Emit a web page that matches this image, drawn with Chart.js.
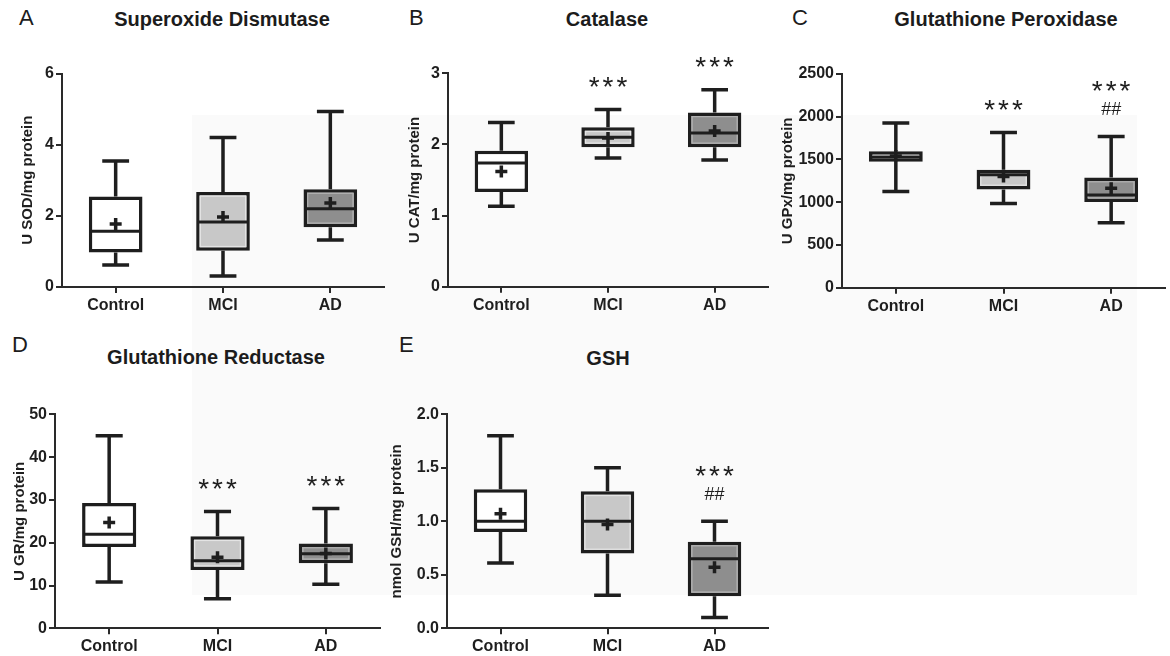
<!DOCTYPE html>
<html><head><meta charset="utf-8">
<script src="https://cdn.jsdelivr.net/npm/chart.js@4.4.0/dist/chart.umd.min.js"></script>
<style>
html,body{margin:0;padding:0;background:#fff;}
body{width:1170px;height:656px;position:relative;overflow:hidden;font-family:"Liberation Sans",Arial,sans-serif;color:#1c1c1c;}
.bg{position:absolute;left:192px;top:115px;width:945px;height:480px;background:#fafafa;}
.letter{position:absolute;font-size:22px;line-height:24px;white-space:nowrap;}
.title{position:absolute;font-size:20px;line-height:24px;font-weight:bold;transform:translateX(-50%);white-space:nowrap;}
canvas{position:absolute;}
</style></head><body>
<div class="bg"></div>
<div class="letter" style="left:19px;top:6px">A</div>
<div class="letter" style="left:409px;top:6px">B</div>
<div class="letter" style="left:792px;top:6px">C</div>
<div class="letter" style="left:12px;top:333px">D</div>
<div class="letter" style="left:399px;top:333px">E</div>
<div class="title" style="left:222px;top:7px">Superoxide Dismutase</div>
<div class="title" style="left:607px;top:7px">Catalase</div>
<div class="title" style="left:1006px;top:7px">Glutathione Peroxidase</div>
<div class="title" style="left:216px;top:345px">Glutathione Reductase</div>
<div class="title" style="left:608px;top:346px">GSH</div>
<canvas id="cA" width="390" height="280" style="left:0px;top:40px"></canvas>
<canvas id="cB" width="385" height="280" style="left:390px;top:40px"></canvas>
<canvas id="cC" width="395" height="280" style="left:775px;top:40px"></canvas>
<canvas id="cD" width="390" height="276" style="left:0px;top:380px"></canvas>
<canvas id="cE" width="390" height="276" style="left:385px;top:380px"></canvas>
<script>
const categories = ['Control', 'MCI', 'AD'];

// A: Superoxide Dismutase (U SOD/mg protein)
const sodMin    = [0.62, 0.31, 1.32];
const sodQ1     = [0.97, 1.02, 1.68];
const sodMedian = [1.57, 1.83, 2.20];
const sodQ3     = [2.54, 2.67, 2.75];
const sodMax    = [3.54, 4.20, 4.93];
const sodMean   = [1.77, 1.97, 2.36];
const sodTicks  = [0, 2, 4, 6];
const sodTickLabels = ['0', '2', '4', '6'];
const sodSig  = ['', '', ''];
const sodHash = ['', '', ''];

// B: Catalase (U CAT/mg protein)
const catMin    = [1.13, 1.81, 1.78];
const catQ1     = [1.33, 1.96, 1.96];
const catMedian = [1.74, 2.10, 2.16];
const catQ3     = [1.91, 2.24, 2.45];
const catMax    = [2.31, 2.49, 2.77];
const catMean   = [1.62, 2.09, 2.19];
const catTicks  = [0, 1, 2, 3];
const catTickLabels = ['0', '1', '2', '3'];
const catSig  = ['', '***', '***'];
const catHash = ['', '', ''];

// C: Glutathione Peroxidase (U GPx/mg protein)
const gpxMin    = [1125, 985, 760];
const gpxQ1     = [1472, 1150, 1002];
const gpxMedian = [1530, 1322, 1084];
const gpxQ3     = [1595, 1380, 1288];
const gpxMax    = [1928, 1815, 1770];
const gpxMean   = [1540, 1300, 1162];
const gpxTicks  = [0, 500, 1000, 1500, 2000, 2500];
const gpxTickLabels = ['0', '500', '1000', '1500', '2000', '2500'];
const gpxSig  = ['', '***', '***'];
const gpxHash = ['', '', '##'];

// D: Glutathione Reductase (U GR/mg protein)
const grMin    = [10.8, 6.9, 10.3];
const grQ1     = [19.0, 13.6, 15.2];
const grMedian = [22.0, 15.8, 17.4];
const grQ3     = [29.3, 21.5, 19.8];
const grMax    = [45.0, 27.3, 28.0];
const grMean   = [24.7, 16.6, 17.5];
const grTicks  = [0, 10, 20, 30, 40, 50];
const grTickLabels = ['0', '10', '20', '30', '40', '50'];
const grSig  = ['', '***', '***'];
const grHash = ['', '', ''];

// E: GSH (nmol GSH/mg protein)
const gshMin    = [0.61, 0.31, 0.10];
const gshQ1     = [0.90, 0.70, 0.30];
const gshMedian = [1.00, 1.00, 0.65];
const gshQ3     = [1.30, 1.28, 0.81];
const gshMax    = [1.80, 1.50, 1.00];
const gshMean   = [1.07, 0.97, 0.57];
const gshTicks  = [0, 0.5, 1.0, 1.5, 2.0];
const gshTickLabels = ['0.0', '0.5', '1.0', '1.5', '2.0'];
const gshSig  = ['', '', '***'];
const gshHash = ['', '', '##'];

const FONT = '"Liberation Sans", Arial, sans-serif';
const INK = '#1e1e1e';
const boxFill = ['#ffffff', '#c8c8c8', '#8e8e8e'];
const boxInner = [null, '#e4e4e4', '#b2b2b2'];

const boxPlugin = {
  id: 'boxPlot',
  afterDatasetsDraw(chart) {
    const d = chart.options.plugins.boxPlot;
    if (!d) return;
    const ctx = chart.ctx;
    const ys = chart.scales.y;
    const py = v => ys.getPixelForValue(v);
    const meta = chart.getDatasetMeta(0);
    meta.data.forEach((bar, i) => {
      const x = bar.x, w = bar.width;
      ctx.save();
      if (boxInner[i]) {
        ctx.strokeStyle = boxInner[i];
        ctx.lineWidth = 1.2;
        const t = py(d.q3[i]) + 4.2, b = py(d.q1[i]) - 4.2;
        ctx.strokeRect(x - w / 2 + 4.2, t, w - 8.4, b - t);
      }
      ctx.strokeStyle = INK;
      ctx.lineCap = 'butt';
      ctx.lineWidth = 3.5;
      ctx.beginPath();
      ctx.moveTo(x, py(d.q3[i])); ctx.lineTo(x, py(d.max[i]));
      ctx.moveTo(x, py(d.q1[i])); ctx.lineTo(x, py(d.min[i]));
      ctx.moveTo(x - w / 4, py(d.max[i])); ctx.lineTo(x + w / 4, py(d.max[i]));
      ctx.moveTo(x - w / 4, py(d.min[i])); ctx.lineTo(x + w / 4, py(d.min[i]));
      ctx.stroke();
      ctx.lineWidth = 3;
      ctx.beginPath();
      ctx.moveTo(x - w / 2 + 2, py(d.median[i])); ctx.lineTo(x + w / 2 - 2, py(d.median[i]));
      ctx.stroke();
      const my = py(d.mean[i]);
      ctx.lineWidth = 3.5;
      ctx.beginPath();
      ctx.moveTo(x - 6, my); ctx.lineTo(x + 6, my);
      ctx.moveTo(x, my - 6); ctx.lineTo(x, my + 6);
      ctx.stroke();
      const cap = py(d.max[i]);
      ctx.fillStyle = INK;
      ctx.textAlign = 'center';
      ctx.textBaseline = 'alphabetic';
      if (d.hash[i]) {
        ctx.font = '18px ' + FONT;
        ctx.fillText(d.hash[i], x, cap - 27 + 6);
      }
      if (d.sig[i]) {
        ctx.font = '28px ' + FONT;
        ctx.letterSpacing = '3px';
        const cy = cap - (d.hash[i] ? 53 : 30);
        ctx.fillText(d.sig[i], x + 1.5, cy + 16.5);
        ctx.letterSpacing = '0px';
      }
      ctx.restore();
    });
  }
};

function makePanel(id, cfg) {
  const axisStyle = { display: true, color: '#2a2a2a', width: 2 };
  new Chart(document.getElementById(id), {
    type: 'bar',
    data: {
      labels: categories,
      datasets: [{
        data: cfg.q1.map((v, i) => [v, cfg.q3[i]]),
        backgroundColor: boxFill,
        borderColor: INK,
        borderWidth: 3.5,
        borderSkipped: false,
        categoryPercentage: 1,
        barPercentage: 0.5
      }]
    },
    options: {
      responsive: false,
      animation: false,
      events: [],
      layout: { padding: { top: cfg.padTop, right: cfg.padRight, left: 0, bottom: 0 } },
      plugins: {
        legend: { display: false },
        tooltip: { enabled: false },
        boxPlot: cfg
      },
      scales: {
        x: {
          offset: true,
          grid: { display: true, offset: false, drawOnChartArea: false, drawTicks: true, tickLength: 6, color: '#2a2a2a', lineWidth: 2 },
          border: axisStyle,
          ticks: { color: INK, font: { family: FONT, size: 16, weight: 'bold' }, padding: 3, maxRotation: 0, autoSkip: false },
          afterFit: s => { s.height = cfg.xHeight; }
        },
        y: {
          min: cfg.ticks[0],
          max: cfg.ticks[cfg.ticks.length - 1],
          afterBuildTicks: s => { s.ticks = cfg.ticks.map(v => ({ value: v })); },
          grid: { display: true, drawOnChartArea: false, drawTicks: true, tickLength: 6, color: '#2a2a2a', lineWidth: 2 },
          border: axisStyle,
          ticks: { color: INK, font: { family: FONT, size: 16, weight: 'bold' }, padding: 2, autoSkip: false,
                   callback: (v, i) => cfg.tickLabels[i] },
          title: { display: true, text: cfg.yTitle, color: INK, font: { family: FONT, size: 15, weight: 'bold' }, padding: { top: cfg.titlePad, bottom: 0 } },
          afterFit: s => { s.width = cfg.yWidth; }
        }
      }
    },
    plugins: [boxPlugin]
  });
}

makePanel('cA', { min: sodMin, q1: sodQ1, median: sodMedian, q3: sodQ3, max: sodMax, mean: sodMean,
  ticks: sodTicks, tickLabels: sodTickLabels, sig: sodSig, hash: sodHash, yTitle: 'U SOD/mg protein',
  padTop: 33.5, padRight: 6, xHeight: 33, yWidth: 62, titlePad: 19 });
makePanel('cB', { min: catMin, q1: catQ1, median: catMedian, q3: catQ3, max: catMax, mean: catMean,
  ticks: catTicks, tickLabels: catTickLabels, sig: catSig, hash: catHash, yTitle: 'U CAT/mg protein',
  padTop: 33.3, padRight: 7, xHeight: 33.3, yWidth: 58, titlePad: 16 });
makePanel('cC', { min: gpxMin, q1: gpxQ1, median: gpxMedian, q3: gpxQ3, max: gpxMax, mean: gpxMean,
  ticks: gpxTicks, tickLabels: gpxTickLabels, sig: gpxSig, hash: gpxHash, yTitle: 'U GPx/mg protein',
  padTop: 34, padRight: 5, xHeight: 32.3, yWidth: 67, titlePad: 4 });
makePanel('cD', { min: grMin, q1: grQ1, median: grMedian, q3: grQ3, max: grMax, mean: grMean,
  ticks: grTicks, tickLabels: grTickLabels, sig: grSig, hash: grHash, yTitle: 'U GR/mg protein',
  padTop: 34.3, padRight: 10, xHeight: 27.7, yWidth: 55, titlePad: 11 });
makePanel('cE', { min: gshMin, q1: gshQ1, median: gshMedian, q3: gshQ3, max: gshMax, mean: gshMean,
  ticks: gshTicks, tickLabels: gshTickLabels, sig: gshSig, hash: gshHash, yTitle: 'nmol GSH/mg protein',
  padTop: 34.3, padRight: 7, xHeight: 27.7, yWidth: 62, titlePad: 3 });
</script>
</body></html>
